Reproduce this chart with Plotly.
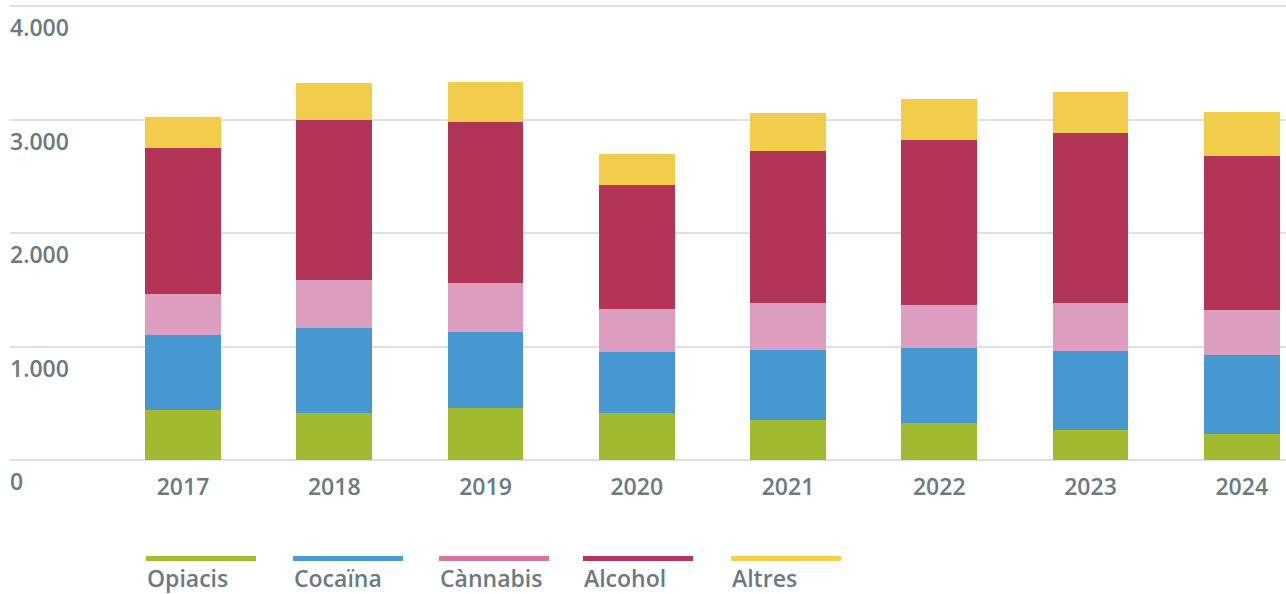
import plotly.graph_objects as go

years = ["2017", "2018", "2019", "2020", "2021", "2022", "2023", "2024"]
opiacis = [444, 418, 459, 418, 356, 329, 268, 232]
cocaina = [659, 747, 670, 532, 609, 662, 691, 697]
cannabis = [359, 420, 433, 379, 420, 374, 423, 395]
alcohol = [1288, 1415, 1414, 1092, 1336, 1456, 1497, 1352]
altres = [274, 318, 356, 279, 335, 361, 362, 392]

series_names = ["Opiacis", "Cocaïna", "Cànnabis", "Alcohol", "Altres"]
series_values = [opiacis, cocaina, cannabis, alcohol, altres]
bar_colors = ["#a1bb30", "#4798d1", "#dd9dbe", "#b23457", "#f2cd4b"]
legend_colors = ["#a3bd31", "#4a9bd3", "#d674a3", "#b5365a", "#f4cf4a"]

y_ticks = [0, 1000, 2000, 3000, 4000]
y_tick_text = ["0", "1.000", "2.000", "3.000", "4.000"]

text_color = "#6b7a80"
FONT = "Open Sans"
FS = 23

fig = go.Figure()
for name, vals, col in zip(series_names, series_values, bar_colors):
    fig.add_trace(go.Bar(
        x=years, y=vals, name=name, width=0.5,
        marker=dict(color=col, line=dict(width=0)),
        showlegend=False,
    ))

# plot area: y from 0 to 470 px, x from 10 to 1286 px
fig.update_layout(
    barmode="stack",
    width=1286, height=594,
    margin=dict(l=10, r=0, t=0, b=124),
    paper_bgcolor="white", plot_bgcolor="white",
    font=dict(family=FONT, size=FS, color=text_color, weight=600),
)

fig.update_xaxes(
    type="category",
    range=[-1.1438, 7.2926],
    showgrid=False, showline=False, zeroline=False,
    ticks="", ticklabelstandoff=1,
    tickfont=dict(family=FONT, size=FS, color=text_color, weight=600),
)
fig.update_yaxes(
    range=[-88.1, 4052.9],
    tickvals=y_ticks,
    showticklabels=False,
    showgrid=True, gridcolor="rgba(0,0,0,0.12)", gridwidth=2,
    zeroline=False, showline=False, ticks="",
    layer="above traces",
)

# y tick labels placed just below each gridline, at the left edge
for v, t in zip(y_ticks, y_tick_text):
    fig.add_annotation(xref="paper", yref="y", x=0, y=v, text=t, showarrow=False,
                       xanchor="left", yanchor="top", yshift=-3, xshift=-2,
                       font=dict(family=FONT, size=FS, color=text_color, weight=600))

# custom legend: coloured line above each label
leg_x = [146, 293, 439, 583, 731]
W = 1276.0
H = 470.0
for name, col, px in zip(series_names, legend_colors, leg_x):
    x0 = (px - 10) / W
    x1 = (px + 110 - 10) / W
    fig.add_shape(type="rect", xref="paper", yref="paper",
                  x0=x0, x1=x1, y0=(470 - 561) / H, y1=(470 - 556) / H,
                  line=dict(width=0), fillcolor=col)
    fig.add_annotation(xref="paper", yref="paper", x=x0 - 1.0 / W, y=(470 - 578) / H,
                       text=name, showarrow=False, xanchor="left", yanchor="middle",
                       font=dict(family=FONT, size=FS, color=text_color, weight=600))

fig.write_html("out.html", config={"displayModeBar": False},
               post_script="document.body.style.margin='0';")
